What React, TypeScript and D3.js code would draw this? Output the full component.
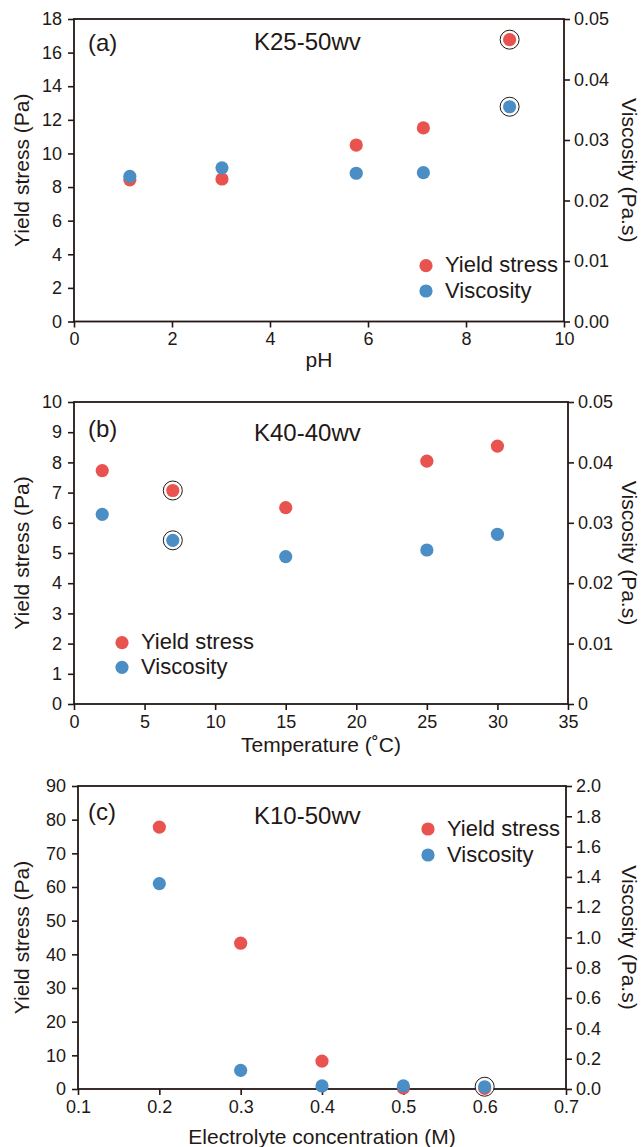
import React, { useEffect, useRef } from 'react';
import * as d3 from 'd3';

const RED = '#e8534f';
const BLUE = '#4b8ec6';
const INK = '#231815';
const FONT = '"Liberation Sans", Arial, Helvetica, sans-serif';

// (a) pH series, K25-50wv
const phX = [1.14, 3.02, 5.76, 7.13, 8.89];
const phYield = [8.43, 8.48, 10.5, 11.52, 16.77];
const phViscosity = [0.024, 0.0254, 0.0245, 0.0246, 0.0355];
const phCircled = [8.89];
const phXTicks = [0, 2, 4, 6, 8, 10];
const phYieldTicks = [0, 2, 4, 6, 8, 10, 12, 14, 16, 18];
const phViscTicks = [0, 0.01, 0.02, 0.03, 0.04, 0.05];

// (b) temperature series, K40-40wv
const tempX = [2, 7, 15, 25, 30];
const tempYield = [7.73, 7.07, 6.5, 8.04, 8.54];
const tempViscosity = [0.0314, 0.0271, 0.0244, 0.0255, 0.0281];
const tempCircled = [7];
const tempXTicks = [0, 5, 10, 15, 20, 25, 30, 35];
const tempYieldTicks = [0, 1, 2, 3, 4, 5, 6, 7, 8, 9, 10];
const tempViscTicks = [0, 0.01, 0.02, 0.03, 0.04, 0.05];

// (c) electrolyte series, K10-50wv
const concX = [0.2, 0.3, 0.4, 0.5, 0.6];
const concYield = [77.8, 43.3, 8.3, 0.3, 0.2];
const concViscosity = [1.356, 0.123, 0.02, 0.02, 0.015];
const concCircled = [0.6];
const concXTicks = [0.1, 0.2, 0.3, 0.4, 0.5, 0.6, 0.7];
const concYieldTicks = [0, 10, 20, 30, 40, 50, 60, 70, 80, 90];
const concViscTicks = [0, 0.2, 0.4, 0.6, 0.8, 1.0, 1.2, 1.4, 1.6, 1.8, 2.0];

const panels = [
  {
    tag: '(a)', name: 'K25-50wv', xTitle: 'pH',
    xs: phX, ys: phYield, vs: phViscosity, circled: phCircled, circleYield: true,
    xTicks: phXTicks, yTicks: phYieldTicks, vTicks: phViscTicks,
    xFmt: d3.format('d'), vFmt: d3.format('.2f'),
    box: { left: 74, right: 564, top: 19, bottom: 321.5 },
    tagY: 51, nameY: 50, legend: { x: 426, y: 265.7, gap: 25.3 }, xTitleY: 367,
  },
  {
    tag: '(b)', name: 'K40-40wv', xTitle: 'Temperature (\u02daC)',
    xs: tempX, ys: tempYield, vs: tempViscosity, circled: tempCircled, circleYield: true,
    xTicks: tempXTicks, yTicks: tempYieldTicks, vTicks: tempViscTicks,
    xFmt: d3.format('d'), vFmt: (v: number) => (v === 0 ? '0' : d3.format('.2f')(v)),
    box: { left: 74, right: 568, top: 402, bottom: 704 },
    tagY: 437, nameY: 441, legend: { x: 122, y: 642.7, gap: 24.6 }, xTitleY: 752,
  },
  {
    tag: '(c)', name: 'K10-50wv', xTitle: 'Electrolyte concentration (M)',
    xs: concX, ys: concYield, vs: concViscosity, circled: concCircled, circleYield: false,
    xTicks: concXTicks, yTicks: concYieldTicks, vTicks: concViscTicks,
    xFmt: d3.format('.1f'), vFmt: d3.format('.1f'),
    box: { left: 78, right: 566, top: 786, bottom: 1089 },
    tagY: 820, nameY: 824, legend: { x: 428, y: 829, gap: 26 }, xTitleY: 1144,
  },
];

export default function App() {
  const ref = useRef<SVGSVGElement>(null);

  useEffect(() => {
    const svg = d3.select(ref.current);
    svg.selectAll('*').remove();

    panels.forEach(p => {
      const { left, right, top, bottom } = p.box;
      const g = svg.append('g');

      const x = d3.scaleLinear()
        .domain([p.xTicks[0], p.xTicks[p.xTicks.length - 1]])
        .range([left, right]);
      const y = d3.scaleLinear()
        .domain([0, p.yTicks[p.yTicks.length - 1]])
        .range([bottom, top]);
      const v = d3.scaleLinear()
        .domain([0, p.vTicks[p.vTicks.length - 1]])
        .range([bottom, top]);

      //axes
      const styleAxis = (sel: any) => {
        sel.attr('font-size', 18).attr('font-family', FONT).style('color', INK);
        sel.select('.domain').remove();
        sel.selectAll('.tick line').attr('stroke-width', 1.6);
      };
      g.append('g')
        .attr('transform', `translate(${left},0)`)
        .call(d3.axisLeft(y).tickValues(p.yTicks).tickSize(6).tickPadding(6).tickFormat(d3.format('d')))
        .call(styleAxis);
      g.append('g')
        .attr('transform', `translate(${right},0)`)
        .call(d3.axisRight(v).tickValues(p.vTicks).tickSize(6).tickPadding(4).tickFormat(p.vFmt as any))
        .call(styleAxis);
      g.append('g')
        .attr('transform', `translate(0,${bottom})`)
        .call(d3.axisBottom(x).tickValues(p.xTicks).tickSize(6).tickPadding(5).tickFormat(p.xFmt as any))
        .call(styleAxis);

      //frame
      g.append('rect')
        .attr('x', left).attr('y', top)
        .attr('width', right - left).attr('height', bottom - top)
        .attr('fill', 'none').attr('stroke', INK).attr('stroke-width', 1.8);

      //axis titles
      g.append('text')
        .attr('transform', `translate(29,${(top + bottom) / 2}) rotate(-90)`)
        .attr('text-anchor', 'middle')
        .attr('font-size', 21).attr('font-family', FONT).attr('fill', INK)
        .text('Yield stress (Pa)');
      g.append('text')
        .attr('transform', `translate(622,${(top + bottom) / 2}) rotate(90)`)
        .attr('text-anchor', 'middle')
        .attr('font-size', 21).attr('font-family', FONT).attr('fill', INK)
        .text('Viscosity (Pa.s)');
      g.append('text')
        .attr('x', (left + right) / 2).attr('y', p.xTitleY)
        .attr('text-anchor', 'middle')
        .attr('font-size', 21).attr('font-family', FONT).attr('fill', INK)
        .text(p.xTitle);

      //panel labels
      g.append('text')
        .attr('x', 88).attr('y', p.tagY)
        .attr('font-size', 24).attr('font-family', FONT).attr('fill', INK)
        .text(p.tag);
      g.append('text')
        .attr('x', 254).attr('y', p.nameY)
        .attr('font-size', 24).attr('font-family', FONT).attr('fill', INK)
        .text(p.name);

      //highlight rings
      p.circled.forEach(c => {
        const i = p.xs.indexOf(c);
        const rings = p.circleYield ? [y(p.ys[i]), v(p.vs[i])] : [v(p.vs[i])];
        rings.forEach(cy => {
          g.append('circle')
            .attr('cx', x(c)).attr('cy', cy).attr('r', 9.5)
            .attr('fill', 'white').attr('stroke', INK).attr('stroke-width', 1);
        });
      });

      //points
      g.selectAll('circle.yield')
        .data(p.xs.map((d, i) => ({ x: d, y: p.ys[i] })))
        .enter().append('circle')
        .attr('class', 'yield')
        .attr('cx', d => x(d.x)).attr('cy', d => y(d.y)).attr('r', 6.6)
        .attr('fill', RED);
      g.selectAll('circle.visc')
        .data(p.xs.map((d, i) => ({ x: d, y: p.vs[i] })))
        .enter().append('circle')
        .attr('class', 'visc')
        .attr('cx', d => x(d.x)).attr('cy', d => v(d.y)).attr('r', 6.6)
        .attr('fill', BLUE);

      //legend
      const lg = g.append('g');
      [['Yield stress', RED], ['Viscosity', BLUE]].forEach(([label, color], i) => {
        const ly = p.legend.y + i * p.legend.gap;
        lg.append('circle')
          .attr('cx', p.legend.x).attr('cy', ly).attr('r', 6.6).attr('fill', color);
        lg.append('text')
          .attr('x', p.legend.x + 19).attr('y', ly + 6.5)
          .attr('font-size', 22).attr('font-family', FONT).attr('fill', INK)
          .text(label);
      });
    });
  }, []);

  return (
    <svg ref={ref} width={641} height={1147}
      style={{ position: 'absolute', left: 0, top: 0, background: 'white' }} />
  );
}
